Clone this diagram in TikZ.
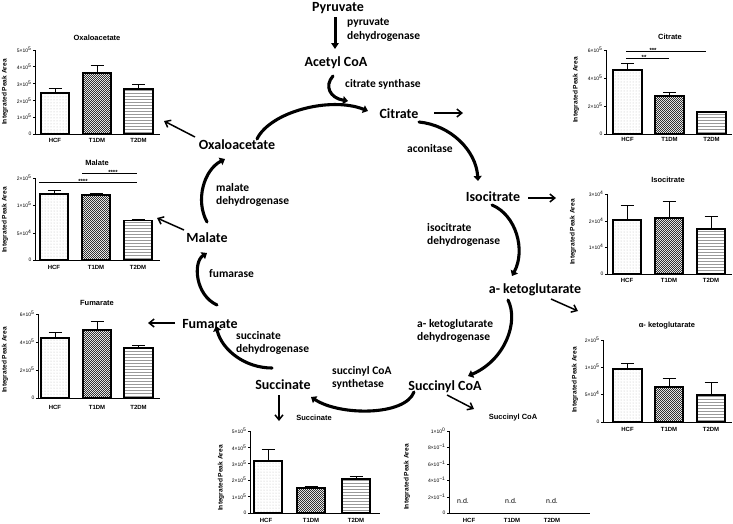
\documentclass[tikz,border=0pt]{standalone}
\usepackage{fontspec}
\setmainfont{Carlito}
\newfontfamily\chartfont{Liberation Sans}
\usetikzlibrary{arrows.meta,patterns}
\pgfdeclarepatternformonly{finecheck}{\pgfpointorigin}{\pgfqpoint{2.4pt}{2.4pt}}{\pgfqpoint{2.4pt}{2.4pt}}{%
 \pgfpathrectangle{\pgfpointorigin}{\pgfqpoint{1.2pt}{1.2pt}}%
 \pgfpathrectangle{\pgfqpoint{1.2pt}{1.2pt}}{\pgfqpoint{1.2pt}{1.2pt}}%
 \pgfusepath{fill}}
\newcommand{\sci}[2]{#1\texttimes10\textsuperscript{#2}}
\newcommand{\ytk}[4]{\draw[axisline] (#2,#3) -- ++(-2.5,0); \node[ctick] (#1) at (#2-2.5,#3) {#4};}
\newcommand{\dbar}[6]{\draw[errline] ({(#2+#3)/2},#5) -- ({(#2+#3)/2},#6) ({(#2+#3)/2-6.5},#6) -- ({(#2+#3)/2+6.5},#6); \draw[barframe,#1] (#2,#4) rectangle (#3,#5);}
\begin{document}
\begin{tikzpicture}[x=1pt,y=-1pt,
 met/.style={font=\fontsize{14}{16}\selectfont\bfseries, inner sep=0pt, anchor=base},
 enz/.style={font=\fontsize{11.5}{13.5}\selectfont\bfseries, inner sep=0pt, anchor=west, align=left},
 cyc/.style={line width=3.1pt, -{Triangle[length=5pt,width=8pt]}, line cap=round},
 sarr/.style={line width=1.5pt, -{Straight Barb[length=5pt,width=8pt]}},
 ctitle/.style={font=\chartfont\bfseries\fontsize{7.5}{8}\selectfont, inner sep=0pt},
 ctick/.style={font=\chartfont\fontsize{5}{6}\selectfont, anchor=east, inner sep=0.8pt},
 ccat/.style={font=\chartfont\bfseries\fontsize{6}{7}\selectfont, inner sep=0pt},
 cylab/.style={font=\chartfont\bfseries\fontsize{6.6}{7}\selectfont, rotate=90, inner sep=0pt},
 axisline/.style={line width=0.9pt},
 barframe/.style={line width=1.4pt},
 errline/.style={line width=1pt},
 hcf/.style={pattern=dots, pattern color=gray!55},
 tone/.style={pattern=finecheck, pattern color=black!80},
 ttwo/.style={pattern=horizontal lines, pattern color=gray!80},
 sig/.style={line width=0.9pt},
 sigtxt/.style={font=\chartfont\bfseries\fontsize{6}{6}\selectfont, inner sep=0pt, anchor=base},
 nd/.style={font=\chartfont\fontsize{7}{8}\selectfont, inner sep=0pt}]
\useasboundingbox (0,0) rectangle (733,523);

% ---------- cycle labels ----------
\node[met] (pyr) at (338,11) {Pyruvate};
\node[enz] (pdh) at (347,30) {pyruvate\\dehydrogenase};
\node[met] (acoa) at (336,66) {Acetyl CoA};
\node[enz] (cs) at (345,84) {citrate synthase};
\node[met] (cit) at (399,118) {Citrate};
\node[enz] (acn) at (407,149) {aconitase};
\node[met] (icit) at (493,201) {Isocitrate};
\node[enz] (idh) at (427,235) {isocitrate\\dehydrogenase};
\node[met] (akg) at (535,293) {a- ketoglutarate};
\node[enz] (kgdh) at (417,331) {a- ketoglutarate\\dehydrogenase};
\node[met] (scoa) at (445,390) {Succinyl CoA};
\node[enz] (scs) at (332,378) {succinyl CoA\\synthetase};
\node[met] (succ) at (283,389) {Succinate};
\node[enz] (sdh) at (236,343) {succinate\\dehydrogenase};
\node[met] (fum) at (210,328) {Fumarate};
\node[enz] (fh) at (209,274) {fumarase};
\node[met] (mal) at (207,242) {Malate};
\node[enz] (mdh) at (216,195) {malate\\dehydrogenase};
\node[met] (oaa) at (237,149) {Oxaloacetate};

% ---------- cycle arrows ----------
\coordinate (pa) at (335,17); \coordinate (pb) at (335,49);
\draw[line width=3pt,-{Triangle[length=6pt,width=7.5pt]}] (pa) -- (pb);
\coordinate (o1) at (257,139); \coordinate (o2) at (368,111);
\draw[cyc] (o1) .. controls (270,112) and (330,96) .. (o2);
\coordinate (s1) at (333,76); \coordinate (s2) at (348,101);
\draw[cyc] (s1) .. controls (324,86) and (330,98) .. (s2);
\coordinate (a1) at (419,122); \coordinate (a2) at (478,181);
\draw[cyc] (a1) .. controls (450,125) and (476,150) .. (a2);
\coordinate (i1) at (492,205); \coordinate (i2) at (512,276);
\draw[cyc] (i1) .. controls (516,215) and (526,250) .. (i2);
\coordinate (k1) at (508,300); \coordinate (k2) at (468,376);
\draw[cyc] (k1) .. controls (519,322) and (505,360) .. (k2);
\coordinate (y1) at (414,392); \coordinate (y2) at (311,397);
\draw[cyc] (y1) .. controls (405,416) and (340,416) .. (y2);
\coordinate (d1) at (272,368); \coordinate (d2) at (216,326);
\draw[cyc] (d1) .. controls (245,368) and (222,350) .. (d2);
\coordinate (f1) at (217,305); \coordinate (f2) at (207,253);
\draw[cyc] (f1) .. controls (195,295) and (193,262) .. (f2);
\coordinate (m1) at (207,222); \coordinate (m2) at (225,159);
\draw[cyc] (m1) .. controls (195,200) and (204,170) .. (m2);

% ---------- arrows to charts ----------
\coordinate (ca) at (434,113); \coordinate (cb) at (463,113);
\draw[sarr] (ca) -- (cb);
\coordinate (ia) at (528,198); \coordinate (ib) at (556,198);
\draw[sarr] (ia) -- (ib);
\coordinate (ka) at (551,299); \coordinate (kb) at (578,311);
\draw[sarr] (ka) -- (kb);
\coordinate (ya) at (447,395); \coordinate (yb) at (474,409);
\draw[sarr] (ya) -- (yb);
\coordinate (sa) at (279,395); \coordinate (sb) at (279,421);
\draw[sarr] (sa) -- (sb);
\coordinate (fa) at (175,323); \coordinate (fb) at (148,323);
\draw[sarr] (fa) -- (fb);
\coordinate (ma) at (184,230); \coordinate (mb) at (157,218);
\draw[sarr] (ma) -- (mb);
\coordinate (oa) at (195,137); \coordinate (ob) at (164,121);
\draw[sarr] (oa) -- (ob);

% ---------- chart 1: Oxaloacetate ----------
\node[ctitle] (t1) at (97,38) {Oxaloacetate};
\draw[axisline] (35,50) -- (35,134) -- (160,134);
\ytk{k10}{35}{134}{0}
\ytk{k11}{35}{117.2}{\sci{1}{5}}
\ytk{k12}{35}{100.4}{\sci{2}{5}}
\ytk{k13}{35}{83.6}{\sci{3}{5}}
\ytk{k14}{35}{66.8}{\sci{4}{5}}
\ytk{k15}{35}{50}{\sci{5}{5}}
\dbar{hcf}{41}{69}{134}{93}{88}
\dbar{tone}{83}{111}{134}{73}{65}
\dbar{ttwo}{124}{153}{134}{89}{84}
\node[ccat] (h1) at (55,140) {HCF};
\node[ccat] (p1) at (97,140) {T1DM};
\node[ccat] (q1) at (138.5,140) {T2DM};
\node[cylab] (l1) at (5,92) {Integrated Peak Area};

% ---------- chart 2: Malate ----------
\node[ctitle] (t2) at (97,163) {Malate};
\draw[axisline] (35,178) -- (35,260) -- (160,260);
\ytk{k20}{35}{260}{0}
\ytk{k21}{35}{233}{\sci{5}{4}}
\ytk{k22}{35}{205}{\sci{1}{5}}
\ytk{k23}{35}{178}{\sci{2}{5}}
\dbar{hcf}{40}{68}{260}{194}{190.5}
\dbar{tone}{82}{110}{260}{195}{193}
\dbar{ttwo}{124}{152}{260}{220.7}{219.5}
\draw[sig] (39,182) -- (137,182);
\node[sigtxt] (s21) at (83,183) {****};
\draw[sig] (82,173) -- (137,173);
\node[sigtxt] (s22) at (113,174) {****};
\node[ccat] (h2) at (54,267) {HCF};
\node[ccat] (p2) at (96,267) {T1DM};
\node[ccat] (q2) at (138,267) {T2DM};
\node[cylab] (l2) at (5,220) {Integrated Peak Area};

% ---------- chart 3: Fumarate ----------
\node[ctitle] (t3) at (97,303) {Fumarate};
\draw[axisline] (38,314) -- (38,398) -- (160,398);
\ytk{k30}{38}{398}{0}
\ytk{k31}{38}{370}{\sci{2}{5}}
\ytk{k32}{38}{342}{\sci{4}{5}}
\ytk{k33}{38}{314}{\sci{6}{5}}
\dbar{hcf}{41}{69}{398}{338}{332}
\dbar{tone}{83}{111}{398}{330}{321}
\dbar{ttwo}{124}{153}{398}{348}{345}
\node[ccat] (h3) at (55,407) {HCF};
\node[ccat] (p3) at (97,407) {T1DM};
\node[ccat] (q3) at (138.5,407) {T2DM};
\node[cylab] (l3) at (5,360) {Integrated Peak Area};

% ---------- chart 4: Citrate ----------
\node[ctitle] (t4) at (670,37) {Citrate};
\draw[axisline] (606,50) -- (606,134) -- (732,134);
\ytk{k40}{606}{134}{0}
\ytk{k41}{606}{106}{\sci{2}{5}}
\ytk{k42}{606}{78}{\sci{4}{5}}
\ytk{k43}{606}{50}{\sci{6}{5}}
\dbar{hcf}{613}{642}{134}{70}{63}
\dbar{tone}{655}{684}{134}{96}{92}
\dbar{ttwo}{697}{726}{134}{112}{111}
\draw[sig] (626,58) -- (669,58);
\node[sigtxt] (s41) at (644,59) {**};
\draw[sig] (626,51) -- (706,51);
\node[sigtxt] (s42) at (653,52) {***};
\node[ccat] (h4) at (627.5,139) {HCF};
\node[ccat] (p4) at (669.5,139) {T1DM};
\node[ccat] (q4) at (711.5,139) {T2DM};
\node[cylab] (l4) at (576,90) {Integrated Peak Area};

% ---------- chart 5: Isocitrate ----------
\node[ctitle] (t5) at (668,180) {Isocitrate};
\draw[axisline] (607,194) -- (607,274) -- (732,274);
\ytk{k50}{607}{274}{0}
\ytk{k51}{607}{247}{\sci{1}{4}}
\ytk{k52}{607}{221}{\sci{2}{4}}
\ytk{k53}{607}{194}{\sci{3}{4}}
\dbar{hcf}{613}{641}{274}{220}{205}
\dbar{tone}{655}{683}{274}{218}{201}
\dbar{ttwo}{697}{725}{274}{229}{216}
\node[ccat] (h5) at (627,280) {HCF};
\node[ccat] (p5) at (669,280) {T1DM};
\node[ccat] (q5) at (711,280) {T2DM};
\node[cylab] (l5) at (573,232) {Integrated Peak Area};

% ---------- chart 6: alpha-ketoglutarate ----------
\node[ctitle] (t6) at (667,326) {α- ketoglutarate};
\draw[axisline] (603,340) -- (603,422) -- (732,422);
\ytk{k60}{603}{422}{0}
\ytk{k61}{603}{394}{\sci{5}{4}}
\ytk{k62}{603}{367}{\sci{1}{5}}
\ytk{k63}{603}{340}{\sci{2}{5}}
\dbar{hcf}{613}{642}{422}{369}{363}
\dbar{tone}{655}{683}{422}{387}{378}
\dbar{ttwo}{697}{725}{422}{395}{382}
\node[ccat] (h6) at (627.5,429) {HCF};
\node[ccat] (p6) at (669,429) {T1DM};
\node[ccat] (q6) at (711,429) {T2DM};
\node[cylab] (l6) at (575,380) {Integrated Peak Area};

% ---------- chart 7: Succinate ----------
\node[ctitle] (t7) at (314,418) {Succinate};
\draw[axisline] (250,431) -- (250,513) -- (380,513);
\ytk{k70}{250}{513}{0}
\ytk{k71}{250}{496.6}{\sci{1}{5}}
\ytk{k72}{250}{480.2}{\sci{2}{5}}
\ytk{k73}{250}{463.8}{\sci{3}{5}}
\ytk{k74}{250}{447.4}{\sci{4}{5}}
\ytk{k75}{250}{431}{\sci{5}{5}}
\dbar{hcf}{254}{282}{513}{461}{449}
\dbar{tone}{297}{325}{513}{488}{486}
\dbar{ttwo}{342}{370}{513}{479}{476}
\node[ccat] (h7) at (266,520) {HCF};
\node[ccat] (p7) at (311,520) {T1DM};
\node[ccat] (q7) at (356,520) {T2DM};
\node[cylab] (l7) at (221,478) {Integrated Peak Area};

% ---------- chart 8: Succinyl CoA ----------
\node[ctitle] (t8) at (513,418) {Succinyl CoA};
\draw[axisline] (449,431) -- (449,513) -- (590,513);
\ytk{k80}{449}{513}{0}
\ytk{k81}{449}{497}{\sci{2}{−1}}
\ytk{k82}{449}{480}{\sci{4}{−1}}
\ytk{k83}{449}{464}{\sci{6}{−1}}
\ytk{k84}{449}{447}{\sci{8}{−1}}
\ytk{k85}{449}{431}{\sci{1}{0}}
\node[nd] (n81) at (463,501) {n.d.};
\node[nd] (n82) at (511,501) {n.d.};
\node[nd] (n83) at (552,501) {n.d.};
\node[ccat] (h8) at (469,520) {HCF};
\node[ccat] (p8) at (512,520) {T1DM};
\node[ccat] (q8) at (552,520) {T2DM};
\node[cylab] (l8) at (407,477) {Integrated Peak Area};
\end{tikzpicture}
\end{document}
